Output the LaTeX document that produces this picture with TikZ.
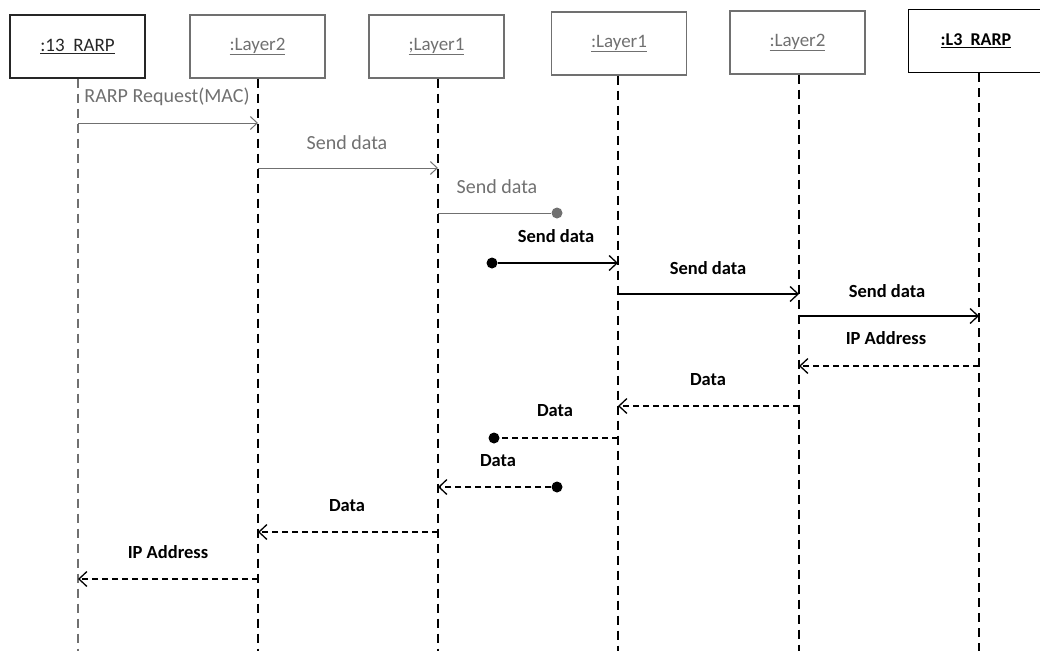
\documentclass[tikz,border=0pt]{standalone}
\usepackage{fontspec}
\setmainfont{Carlito}
\usetikzlibrary{arrows.meta}
\definecolor{lg}{HTML}{707070}
\begin{document}
\begin{tikzpicture}[x=1pt,y=-1pt,
  obj/.style={draw=#1,line width=1.1pt,minimum width=135pt,minimum height=63pt,inner sep=0pt,text=#1,font=\fontsize{19}{21}\selectfont},
  life/.style={draw=#1,line width=1.3pt,dash pattern=on 9pt off 6pt},
  msg/.style={draw=#1,line width=1.3pt,-{Straight Barb[length=8pt,width=15pt,line width=1.3pt]}},
  gmsg/.style={draw=lg,line width=1pt,-{Straight Barb[length=7pt,width=13pt,line width=1pt]}},
  ret/.style={msg=#1,dash pattern=on 6pt off 4pt},
  lbl/.style={text=#1,font=\fontsize{20}{22}\selectfont,inner sep=0pt},
  blbl/.style={text=black,font=\fontsize{18.5}{22}\selectfont\bfseries,inner sep=0pt},
  dotc/.style={circle,fill=#1,draw=none,minimum size=11pt,inner sep=0pt}]
\useasboundingbox (0,0) rectangle (1040,651);
% objects
\node[obj=black!85] (o1) at (77.5,46.5) {\underline{:13\ \ RARP}};
\node[obj=lg] (o2) at (257.5,46.5) {\underline{:Layer2}};
\node[obj=lg] (o3) at (436.5,46.5) {\underline{;Layer1}};
\node[obj=lg] (o4) at (619,43.5) {\underline{:Layer1}};
\node[obj=lg] (o5) at (797.5,42.5) {\underline{:Layer2}};
\node[obj=black,font=\fontsize{18}{21}\selectfont\bfseries] (o6) at (976,41) {\underline{:L3\ \ RARP}};
% lifeline ends
\coordinate (e1) at (78,651);
\coordinate (e2) at (258,651);
\coordinate (e3) at (438,651);
\coordinate (e4) at (618,651);
\coordinate (e5) at (799,651);
\coordinate (e6) at (979,651);
\draw[life=lg] (o1.south -| e1) -- (e1);
\draw[life=black] (o2.south -| e2) -- (e2);
\draw[life=black] (o3.south -| e3) -- (e3);
\draw[life=black] (o4.south -| e4) -- (e4);
\draw[life=black] (o5.south -| e5) -- (e5);
\draw[life=black] (o6.south -| e6) -- (e6);
% message anchor points
\coordinate (m1a) at (78,123); \coordinate (m1b) at (258,123);
\coordinate (m2a) at (258,168); \coordinate (m2b) at (438,168);
\coordinate (m3a) at (438,213);
\node[dotc=lg] (d3) at (557,213) {};
\node[dotc=black] (d4) at (492,263) {};
\coordinate (m4b) at (618,263);
\coordinate (m5a) at (618,294); \coordinate (m5b) at (799,294);
\coordinate (m6a) at (799,316); \coordinate (m6b) at (979,316);
\coordinate (m7a) at (979,366); \coordinate (m7b) at (799,366);
\coordinate (m8a) at (799,406); \coordinate (m8b) at (618,406);
\coordinate (m9a) at (618,438);
\node[dotc=black] (d9) at (494,438) {};
\node[dotc=black] (d10) at (557,487) {};
\coordinate (m10b) at (438,487);
\coordinate (m11a) at (438,532); \coordinate (m11b) at (258,532);
\coordinate (m12a) at (258,579); \coordinate (m12b) at (78,579);
% messages
\draw[gmsg] (m1a) -- (m1b);
\draw[gmsg] (m2a) -- (m2b);
\draw[draw=lg,line width=1pt] (m3a) -- (d3);
\draw[msg=black] (d4) -- (m4b);
\draw[msg=black] (m5a) -- (m5b);
\draw[msg=black] (m6a) -- (m6b);
\draw[ret=black] (m7a) -- (m7b);
\draw[ret=black] (m8a) -- (m8b);
\draw[draw=black,line width=1.3pt,dash pattern=on 6pt off 4pt] (m9a) -- (d9);
\draw[ret=black] (d10) -- (m10b);
\draw[ret=black] (m11a) -- (m11b);
\draw[ret=black] (m12a) -- (m12b);
% labels
\node[lbl=lg] (l1) at (167,97) {RARP Request(MAC)};
\node[lbl=lg] (l2) at (347,143) {Send data};
\node[lbl=lg] (l3) at (497,187) {Send data};
\node[blbl] (l4) at (556,236) {Send data};
\node[blbl] (l5) at (708,268) {Send data};
\node[blbl] (l6) at (887,291) {Send data};
\node[blbl] (l7) at (886,338) {IP Address};
\node[blbl] (l8) at (708,380) {Data};
\node[blbl] (l9) at (555,411) {Data};
\node[blbl] (l10) at (498,461) {Data};
\node[blbl] (l11) at (347,506) {Data};
\node[blbl] (l12) at (168,552) {IP Address};
\end{tikzpicture}
\end{document}
